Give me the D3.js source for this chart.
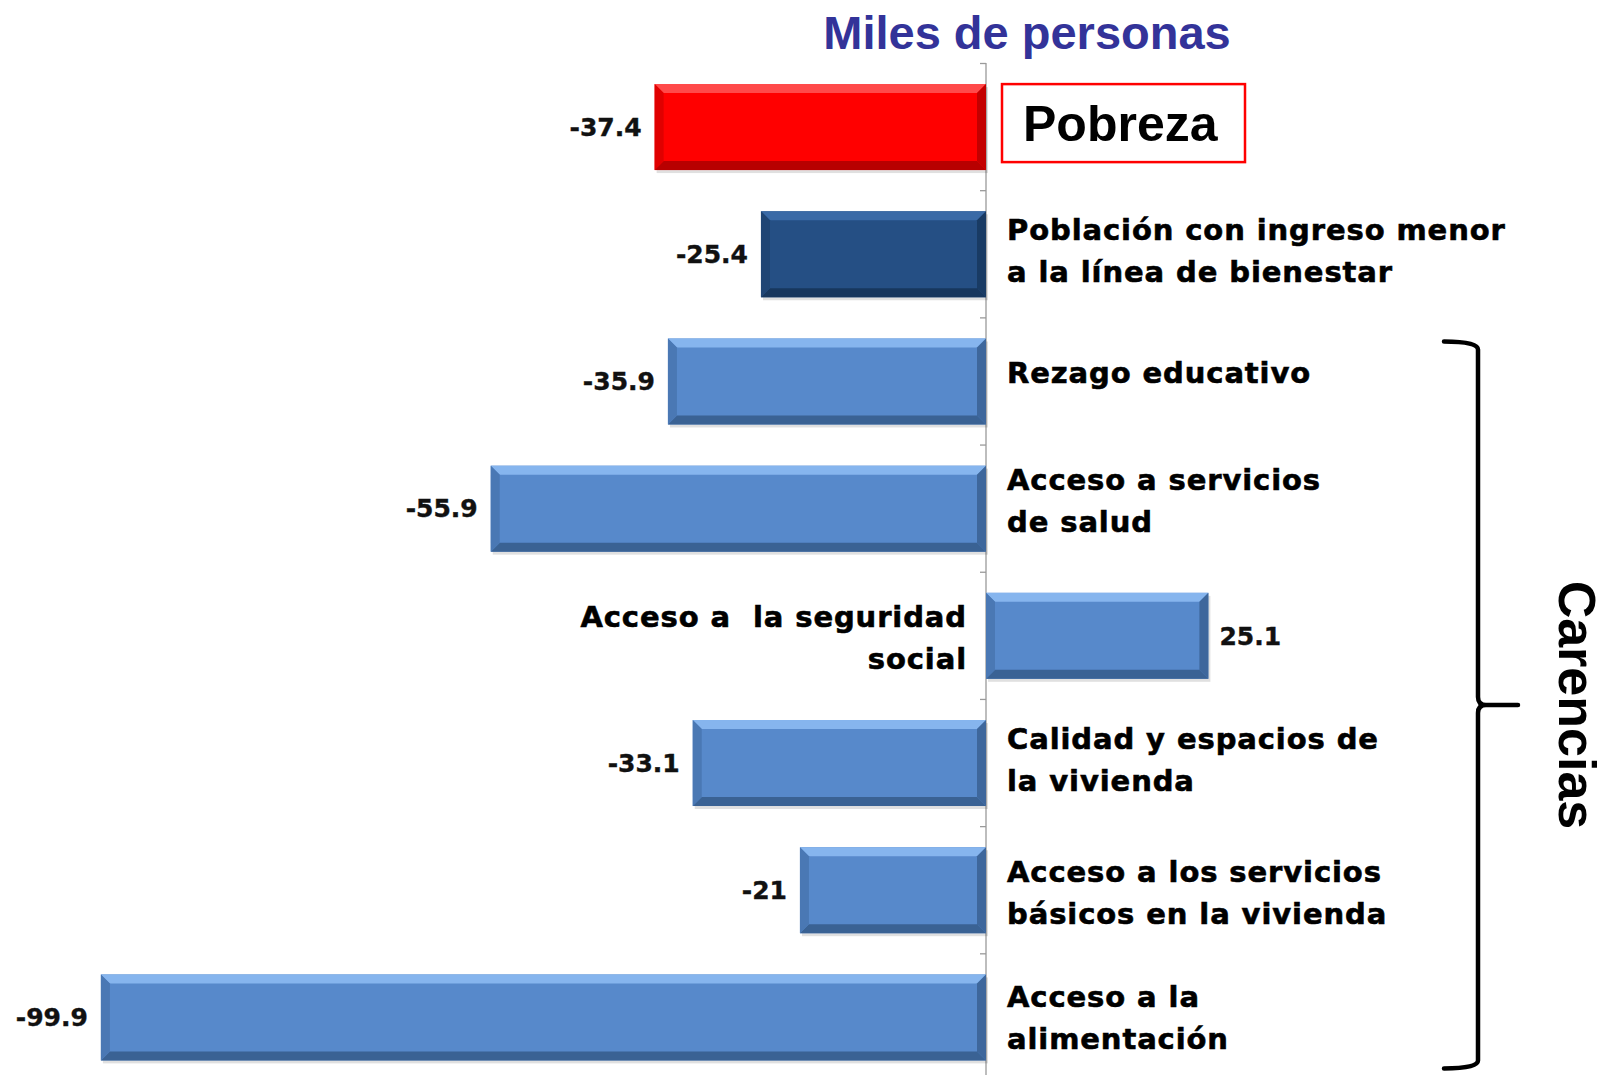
<!DOCTYPE html>
<html>
<head>
<meta charset="utf-8">
<script src="https://cdn.jsdelivr.net/npm/d3@7"></script>
<style>
  body { margin: 0; background: #fff; }
  svg { display: block; }
</style>
</head>
<body>
<div id="chart"></div>
<script>
// data
var categories = ["pobreza", "ingreso", "rezago", "salud", "seguridad", "calidad", "basicos", "alimentacion"];
var values = [-37.4, -25.4, -35.9, -55.9, 25.1, -33.1, -21, -99.9];
var valueLabels = ["-37.4", "-25.4", "-35.9", "-55.9", "25.1", "-33.1", "-21", "-99.9"];
var catLabels = [
  ["Pobreza"],
  ["Población con ingreso menor", "a la línea de bienestar"],
  ["Rezago educativo"],
  ["Acceso a servicios", "de salud"],
  ["Acceso a  la seguridad", "social"],
  ["Calidad y espacios de", "la vivienda"],
  ["Acceso a los servicios", "básicos en la vivienda"],
  ["Acceso a la", "alimentación"]
];
var barKind = ["red", "dark", "light", "light", "light", "light", "light", "light"];

var svgWidth = 1606;
var svgHeight = 1075;

var palette = {
  red:   { main: "#ff0000", top: "#ff4a4a", bottom: "#b80000", side: "#e00000" },
  dark:  { main: "#254f84", top: "#3a6aa6", bottom: "#17375e", side: "#1f4574" },
  light: { main: "#5789cb", top: "#86b5ee", bottom: "#3a6294", side: "#4a78b4" }
};

// small per-label vertical nudges, px
var labelNudge = [0, 0, -6, -5, 5, 0, 6, 3];

var svg = d3.select("#chart")
  .append("svg")
  .attr("width", svgWidth)
  .attr("height", svgHeight);

// scales
var x = d3.scaleLinear()
  .domain([-100, 30])
  .range([100, 1251.8]);

var y = d3.scaleBand()
  .domain(categories)
  .range([63.5, 1081])
  .paddingInner(0.324)
  .paddingOuter(0.162);

var x0 = x(0);

// zero axis with ticks between bands
var axisG = svg.append("g").attr("class", "zero-axis");
axisG.append("line")
  .attr("x1", x0).attr("x2", x0)
  .attr("y1", 63).attr("y2", svgHeight)
  .attr("stroke", "#9a9a9a")
  .attr("stroke-width", 1.3);

var boundaries = categories.map(c => y(c) - y.step() * y.paddingInner() / 2);
axisG.selectAll("line.tick")
  .data(boundaries)
  .enter()
  .append("line")
  .attr("class", "tick")
  .attr("x1", x0 - 6).attr("x2", x0)
  .attr("y1", d => d).attr("y2", d => d)
  .attr("stroke", "#9a9a9a")
  .attr("stroke-width", 1.3);

// bars with a bevel look
var bev = 9;
var barG = svg.selectAll("g.bar")
  .data(categories)
  .enter()
  .append("g")
  .attr("class", "bar");

barG.each(function(c, i) {
  var g = d3.select(this);
  var v = values[i];
  var x1 = Math.min(x(v), x0);
  var x2 = Math.max(x(v), x0);
  var y1 = y(c);
  var y2 = y(c) + y.bandwidth();
  var col = palette[barKind[i]];

  // soft shadow
  g.append("rect")
    .attr("x", x1 + 2).attr("y", y1 + 3)
    .attr("width", x2 - x1).attr("height", y2 - y1)
    .attr("fill", "#000").attr("opacity", 0.12);

  g.append("rect")
    .attr("x", x1).attr("y", y1)
    .attr("width", x2 - x1).attr("height", y2 - y1)
    .attr("fill", col.main);

  var pts = function(arr) { return arr.map(p => p.join(",")).join(" "); };
  // top
  g.append("polygon")
    .attr("points", pts([[x1, y1], [x2, y1], [x2 - bev, y1 + bev], [x1 + bev, y1 + bev]]))
    .attr("fill", col.top);
  // bottom
  g.append("polygon")
    .attr("points", pts([[x1, y2], [x2, y2], [x2 - bev, y2 - bev], [x1 + bev, y2 - bev]]))
    .attr("fill", col.bottom);
  // left
  g.append("polygon")
    .attr("points", pts([[x1, y1], [x1 + bev, y1 + bev], [x1 + bev, y2 - bev], [x1, y2]]))
    .attr("fill", col.side);
  // right
  g.append("polygon")
    .attr("points", pts([[x2, y1], [x2 - bev, y1 + bev], [x2 - bev, y2 - bev], [x2, y2]]))
    .attr("fill", col.bottom).attr("opacity", 0.85);
});

// value labels
svg.selectAll("text.value")
  .data(categories)
  .enter()
  .append("text")
  .attr("class", "value")
  .attr("x", (c, i) => values[i] < 0 ? x(values[i]) - 13 : x(values[i]) + 11)
  .attr("y", c => y(c) + y.bandwidth() / 2)
  .attr("dy", "0.35em")
  .attr("text-anchor", (c, i) => values[i] < 0 ? "end" : "start")
  .style("font-family", "'DejaVu Sans', Verdana, sans-serif")
  .style("font-weight", "bold")
  .style("font-size", "25px")
  .attr("fill", "#111")
  .attr("stroke", "#111")
  .attr("stroke-width", 0.4)
  .text((c, i) => valueLabels[i]);

// category labels
var labelFont = "'DejaVu Sans', Verdana, sans-serif";
var lineGap = 42;
categories.forEach(function(c, i) {
  if (i === 0) return; // Pobreza gets its own box
  var lines = catLabels[i];
  var cy = y(c) + y.bandwidth() / 2 - 3 + labelNudge[i];
  var positive = values[i] > 0;
  var lx = positive ? x0 - 19 : x0 + 21;
  var t = svg.append("text")
    .attr("class", "cat-label")
    .attr("x", lx)
    .attr("text-anchor", positive ? "end" : "start")
    .style("font-family", labelFont)
    .style("font-weight", "bold")
    .style("font-size", "29px")
    .style("letter-spacing", "0.9px")
    .attr("fill", "#000")
    .attr("stroke", "#000")
    .attr("stroke-width", 0.6);
  var startY = cy - (lines.length - 1) * lineGap / 2;
  lines.forEach(function(l, k) {
    t.append("tspan")
      .attr("x", lx)
      .attr("y", startY + k * lineGap)
      .attr("dy", "0.35em")
      .style("white-space", "pre")
      .text(l);
  });
});

// Pobreza box
var pobY = y(categories[0]);
svg.append("rect")
  .attr("x", x0 + 16).attr("y", pobY)
  .attr("width", 243).attr("height", 78)
  .attr("fill", "#fff")
  .attr("stroke", "#ff0000")
  .attr("stroke-width", 2.5);
svg.append("text")
  .attr("x", x0 + 37)
  .attr("y", pobY + 39)
  .attr("dy", "0.36em")
  .style("font-family", "'Liberation Sans', Arial, sans-serif")
  .style("font-weight", "bold")
  .style("font-size", "50px")
  .attr("fill", "#000")
  .text(catLabels[0][0]);

// title
svg.append("text")
  .attr("x", 1027)
  .attr("y", 49)
  .attr("text-anchor", "middle")
  .style("font-family", "'Liberation Sans', Arial, sans-serif")
  .style("font-weight", "bold")
  .style("font-size", "47px")
  .attr("fill", "#333399")
  .text("Miles de personas");

// bracket for the "Carencias" group
var bTop = y("rezago") + 3;
var bBot = y("alimentacion") + y.bandwidth() + 8;
var bMid = (bTop + bBot) / 2;
var bx = 1478;
var bracket = d3.path();
bracket.moveTo(1444, bTop);
bracket.quadraticCurveTo(bx, bTop, bx, bTop + 8);
bracket.lineTo(bx, bMid - 8);
bracket.quadraticCurveTo(bx, bMid, bx + 8, bMid);
bracket.lineTo(1518, bMid);
bracket.moveTo(bx + 8, bMid);
bracket.quadraticCurveTo(bx, bMid, bx, bMid + 8);
bracket.lineTo(bx, bBot - 8);
bracket.quadraticCurveTo(bx, bBot, 1444, bBot);
svg.append("path")
  .attr("d", bracket.toString())
  .attr("fill", "none")
  .attr("stroke", "#000")
  .attr("stroke-width", 4.5)
  .attr("stroke-linecap", "round");

svg.append("text")
  .attr("transform", `translate(1577, ${bMid}) rotate(90)`)
  .attr("text-anchor", "middle")
  .attr("dy", "0.35em")
  .style("font-family", "'Liberation Sans', Arial, sans-serif")
  .style("font-weight", "bold")
  .style("font-size", "52px")
  .attr("fill", "#000")
  .text("Carencias");
</script>
</body>
</html>
